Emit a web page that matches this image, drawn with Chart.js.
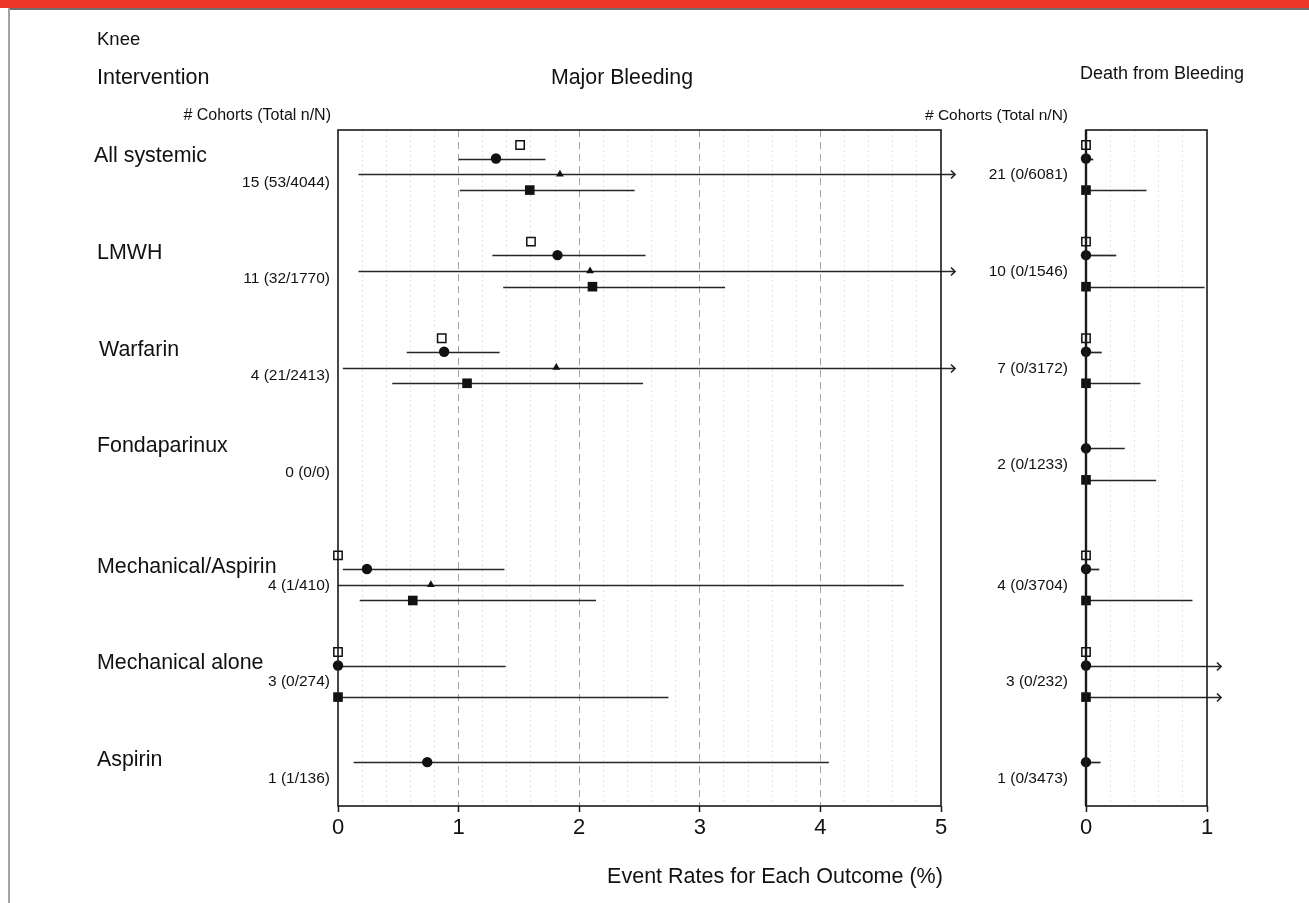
<!DOCTYPE html>
<html>
<head>
<meta charset="utf-8">
<title>Knee – Major Bleeding / Death from Bleeding</title>
<script src="https://cdn.jsdelivr.net/npm/chart.js@4.4.1/dist/chart.umd.min.js"></script>
<style>
  html, body { margin: 0; padding: 0; background: #fff; }
  #page { position: relative; width: 1309px; height: 903px; overflow: hidden; }
  #topbar { position: absolute; left: 0; top: 0; width: 1309px; height: 8px; background: #ee3626; }
  #topline { position: absolute; left: 8px; top: 8px; width: 1301px; height: 2px; background: #6d6d6d; }
  #leftline { position: absolute; left: 8px; top: 8px; width: 2px; height: 895px; background: #a4a4a4; }
  canvas { position: absolute; left: 0; top: 0; }
</style>
</head>
<body>
<div id="page">
  <div id="topbar"></div>
  <div id="topline"></div>
  <div id="leftline"></div>
  <canvas id="majorChart" width="1309" height="903"></canvas>
  <canvas id="deathChart" width="1309" height="903"></canvas>
</div>
<script>
const FONT = "'Liberation Sans', Arial, Helvetica, sans-serif";
const OFF = Infinity; // upper limit beyond the axis -> drawn as an arrow

// ---- Daten ----------------------------------------------------------
const groups = ['All systemic', 'LMWH', 'Warfarin', 'Fondaparinux',
                'Mechanical/Aspirin', 'Mechanical alone', 'Aspirin'];
const majorCounts = ['15 (53/4044)', '11 (32/1770)', '4 (21/2413)', '0 (0/0)',
                     '4 (1/410)', '3 (0/274)', '1 (1/136)'];
const deathCounts = ['21 (0/6081)', '10 (0/1546)', '7 (0/3172)', '2 (0/1233)',
                     '4 (0/3704)', '3 (0/232)', '1 (0/3473)'];

// Major bleeding (%): estimate + interval, null = not reported
const majorOpenSq   = [1.51, 1.60, 0.86, null, 0.00, 0.00, null];
const majorCircle   = [1.31, 1.82, 0.88, null, 0.24, 0.00, 0.74];
const majorCircleLo = [1.00, 1.28, 0.57, null, 0.04, 0.00, 0.13];
const majorCircleHi = [1.72, 2.55, 1.34, null, 1.38, 1.39, 4.07];
const majorTri      = [1.84, 2.09, 1.81, null, 0.77, null, null];
const majorTriLo    = [0.17, 0.17, 0.04, null, 0.00, null, null];
const majorTriHi    = [OFF,  OFF,  OFF,  null, 4.69, null, null];
const majorSq       = [1.59, 2.11, 1.07, null, 0.62, 0.00, null];
const majorSqLo     = [1.01, 1.37, 0.45, null, 0.18, 0.00, null];
const majorSqHi     = [2.46, 3.21, 2.53, null, 2.14, 2.74, null];

// Death from bleeding (%)
const deathOpenSq   = [0, 0, 0, null, 0, 0, null];
const deathCircle   = [0, 0, 0, 0, 0, 0, 0];
const deathCircleHi = [0.06, 0.25, 0.13, 0.32, 0.11, OFF, 0.12];
const deathSq       = [0, 0, 0, 0, 0, 0, null];
const deathSqHi     = [0.50, 0.98, 0.45, 0.58, 0.88, OFF, null];

// ---- Layout der Zeilen (y-Achse in Zeileneinheiten) ----------------
const ROW_STEP = 6.43;
const SUB = { open: 0, circle: 0.9, tri: 1.95, sq: 3.0 };
const labelX = [94, 97, 99, 97, 97, 97, 97];

function rowY(g, sub) {
  return 1 + g * ROW_STEP + (g >= 4 ? 1.6 : 0) + sub;
}

function pts(vals, sub) {
  return vals.map((v, g) => v === null ? null : { x: v, y: rowY(g, sub) })
             .filter(p => p !== null);
}

function bars(est, lo, hi, sub) {
  const out = [];
  est.forEach((v, g) => {
    if (v === null || hi[g] === null) return;
    out.push({ y: rowY(g, sub), lo: lo ? lo[g] : v, hi: hi[g] });
  });
  return out;
}

function isWhole(v) { return Math.abs(v - Math.round(v)) < 1e-6; }

function txt(ctx, s, x, y, size, align) {
  ctx.font = size + 'px ' + FONT;
  ctx.textAlign = align || 'left';
  ctx.textBaseline = 'middle';
  ctx.fillStyle = '#111';
  ctx.fillText(s, x, y);
}

// ---- Plugin: Intervalle, Rahmen und Beschriftungen ----------------
function forestPlugin(barList, zeroLine, drawTexts) {
  return {
    id: 'forest',
    beforeDatasetsDraw(chart) {
      const ctx = chart.ctx, xs = chart.scales.x, ys = chart.scales.y, area = chart.chartArea;
      ctx.save();
      ctx.strokeStyle = '#262626';
      ctx.lineWidth = 1.7;
      barList.forEach(b => {
        const y = Math.round(ys.getPixelForValue(b.y)) + 0.5;
        const arrow = b.hi > xs.max;
        const x1 = xs.getPixelForValue(b.lo);
        const x2 = arrow ? area.right + 14 : xs.getPixelForValue(b.hi);
        ctx.beginPath(); ctx.moveTo(x1, y); ctx.lineTo(x2, y); ctx.stroke();
        if (arrow) {
          ctx.beginPath();
          ctx.moveTo(x2 - 4, y - 4); ctx.lineTo(x2, y); ctx.lineTo(x2 - 4, y + 4);
          ctx.stroke();
        }
      });
      ctx.restore();
    },
    afterDraw(chart) {
      const ctx = chart.ctx, a = chart.chartArea;
      ctx.save();
      ctx.strokeStyle = '#1a1a1a';
      ctx.lineWidth = 1.6;
      ctx.strokeRect(a.left, a.top, a.right - a.left, a.bottom - a.top);
      if (zeroLine) {
        const x0 = chart.scales.x.getPixelForValue(0);
        ctx.lineWidth = 2.4;
        ctx.beginPath(); ctx.moveTo(x0, a.top); ctx.lineTo(x0, a.bottom); ctx.stroke();
      }
      drawTexts(ctx, chart.scales.y);
      ctx.restore();
    }
  };
}

function xScale(max) {
  return {
    type: 'linear', min: 0, max: max,
    afterFit: s => { s.height = 40; },
    ticks: {
      stepSize: 0.2, autoSkip: false, maxRotation: 0, padding: 3,
      color: '#111', font: { family: FONT, size: 22 },
      callback: v => isWhole(v) ? String(Math.round(v)) : ''
    },
    grid: {
      lineWidth: 1, tickLength: 6, tickWidth: 1.5,
      color: c => {
        const v = c.tick ? c.tick.value : 0;
        if (isWhole(v) && (v < 1e-6 || v > max - 1e-6)) return 'rgba(0,0,0,0)';
        return isWhole(v) ? '#a2a2a2' : '#e2e2e2';
      },
      tickColor: c => (c.tick && isWhole(c.tick.value)) ? '#1a1a1a' : 'rgba(0,0,0,0)'
    },
    border: {
      display: false,
      dash: c => (c.tick && isWhole(c.tick.value)) ? [7, 5] : [2, 3]
    }
  };
}

const yScale = { type: 'linear', min: 0, max: 45, reverse: true, display: false };

function markerSets(open, circle, tri, sq) {
  const sets = [
    { data: pts(open, SUB.open), pointStyle: 'rect', pointRadius: 5.9,
      backgroundColor: '#fff', borderColor: '#111', borderWidth: 1.5 },
    { data: pts(circle, SUB.circle), pointStyle: 'circle', pointRadius: 5.2,
      backgroundColor: '#111', borderColor: '#111', borderWidth: 0 },
    { data: pts(tri, SUB.tri), pointStyle: 'triangle', pointRadius: 4.5,
      backgroundColor: '#111', borderColor: '#111', borderWidth: 0 },
    { data: pts(sq, SUB.sq), pointStyle: 'rect', pointRadius: 6.8,
      backgroundColor: '#111', borderColor: '#111', borderWidth: 0 }
  ];
  return sets.map(d => Object.assign({ clip: false, showLine: false, pointHoverRadius: d.pointRadius }, d));
}

function baseOptions(padding, max) {
  return {
    responsive: false, animation: false, devicePixelRatio: 1, events: [],
    layout: { padding: padding },
    scales: { x: xScale(max), y: yScale },
    plugins: { legend: { display: false }, tooltip: { enabled: false } }
  };
}

// ---- Major Bleeding ----------------------------------------------------
const majorBars = [].concat(
  bars(majorCircle, majorCircleLo, majorCircleHi, SUB.circle),
  bars(majorTri, majorTriLo, majorTriHi, SUB.tri),
  bars(majorSq, majorSqLo, majorSqHi, SUB.sq)
);

new Chart(document.getElementById('majorChart'), {
  type: 'scatter',
  data: { datasets: markerSets(majorOpenSq, majorCircle, majorTri, majorSq) },
  options: baseOptions({ left: 338, right: 368, top: 130, bottom: 57 }, 5),
  plugins: [forestPlugin(majorBars, false, (ctx, ys) => {
    txt(ctx, 'Knee', 97, 40, 18.5);
    txt(ctx, 'Intervention', 97, 78, 21.5);
    txt(ctx, 'Major Bleeding', 622, 78, 21.3, 'center');
    txt(ctx, '# Cohorts (Total n/N)', 331, 116, 16, 'right');
    groups.forEach((name, g) => {
      txt(ctx, name, labelX[g], ys.getPixelForValue(rowY(g, SUB.circle)) - 2, 21.4);
      txt(ctx, majorCounts[g], 330, ys.getPixelForValue(rowY(g, g < 4 ? 2.5 : 2.0)), 15.5, 'right');
    });
    txt(ctx, 'Event Rates for Each Outcome (%)', 775, 877, 21.5, 'center');
  })]
});

// ---- Death from Bleeding ---------------------------------------------
const deathBars = [].concat(
  bars(deathCircle, null, deathCircleHi, SUB.circle),
  bars(deathSq, null, deathSqHi, SUB.sq)
);

new Chart(document.getElementById('deathChart'), {
  type: 'scatter',
  data: { datasets: markerSets(deathOpenSq, deathCircle, [], deathSq) },
  options: baseOptions({ left: 1086, right: 102, top: 130, bottom: 57 }, 1),
  plugins: [forestPlugin(deathBars, true, (ctx, ys) => {
    txt(ctx, 'Death from Bleeding', 1162, 74, 18, 'center');
    txt(ctx, '# Cohorts (Total n/N)', 1068, 116, 15.5, 'right');
    groups.forEach((name, g) => {
      txt(ctx, deathCounts[g], 1068, ys.getPixelForValue(rowY(g, 2.0)), 15.5, 'right');
    });
  })]
});
</script>
</body>
</html>
